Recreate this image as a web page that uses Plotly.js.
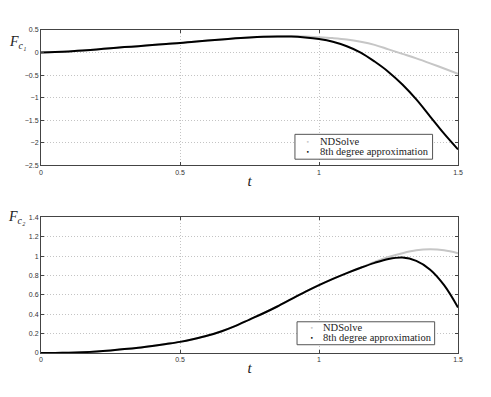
<!DOCTYPE html>
<html>
<head>
<meta charset="utf-8">
<script src="https://cdn.plot.ly/plotly-3.0.1.min.js"></script>
<style>
	html, body { margin: 0; padding: 0; background: #fff; }
	#plot { width: 491px; height: 397px; }
</style>
</head>
<body>
<div id="plot"></div>
<script>
// time samples shared by all curves
const t = [0, 0.05, 0.1, 0.15, 0.2, 0.25, 0.3, 0.35, 0.4, 0.45, 0.5, 0.55, 0.6, 0.65, 0.7, 0.75,
	0.8, 0.85, 0.9, 0.95, 1.0, 1.05, 1.1, 1.15, 1.2, 1.25, 1.3, 1.35, 1.4, 1.45, 1.5];

// F_c1
const fc1_ndsolve = [0, 0.01, 0.025, 0.045, 0.07, 0.095, 0.12, 0.14, 0.165, 0.19, 0.21, 0.24, 0.265, 0.29, 0.315, 0.335,
	0.35, 0.358, 0.36, 0.355, 0.34, 0.32, 0.29, 0.24, 0.17, 0.07, -0.03, -0.13, -0.24, -0.355, -0.47];
const fc1_approx = [0, 0.01, 0.025, 0.045, 0.07, 0.095, 0.12, 0.14, 0.165, 0.19, 0.21, 0.24, 0.265, 0.29, 0.315, 0.335,
	0.35, 0.357, 0.355, 0.335, 0.3, 0.24, 0.14, 0.0, -0.2, -0.43, -0.71, -1.04, -1.42, -1.8, -2.15];

// F_c2
const fc2_ndsolve = [0, 0.0005, 0.003, 0.008, 0.016, 0.027, 0.04, 0.055, 0.073, 0.093, 0.115, 0.145, 0.18, 0.225, 0.28, 0.345,
	0.41, 0.48, 0.555, 0.63, 0.7, 0.765, 0.825, 0.88, 0.94, 0.99, 1.03, 1.06, 1.07, 1.06, 1.03];
const fc2_approx = [0, 0.0005, 0.003, 0.008, 0.016, 0.027, 0.04, 0.055, 0.073, 0.093, 0.115, 0.145, 0.18, 0.225, 0.28, 0.345,
	0.41, 0.48, 0.555, 0.63, 0.7, 0.765, 0.825, 0.88, 0.93, 0.97, 0.985, 0.95, 0.86, 0.7, 0.47];

const legend_names = ["NDSolve", "8th degree approximation"];
const x_ticks = [0, 0.5, 1, 1.5];
const x_ticktext = ["0", "0.5", "1", "1.5"];
const y1_ticks = [-2.5, -2, -1.5, -1, -0.5, 0, 0.5];
const y1_ticktext = ["−2.5", "−2", "−1.5", "−1", "−0.5", "0", "0.5"];
const y2_ticks = [0, 0.2, 0.4, 0.6, 0.8, 1, 1.2, 1.4];
const y2_ticktext = ["0", "0.2", "0.4", "0.6", "0.8", "1", "1.2", "1.4"];

const grey = "#c6c6c6";
const tickfont = { family: "Liberation Sans, Arial, sans-serif", size: 7, color: "#333" };
const serif = "Liberation Serif";

function line(x, y, color, xa, ya) {
	return { x: x, y: y, xaxis: xa, yaxis: ya, mode: "lines", line: { color: color, width: 2, shape: "spline" },
		showlegend: false, hoverinfo: "skip" };
}

const traces = [
	line(t, fc1_ndsolve, grey, "x", "y"),
	line(t, fc1_approx, "#000", "x", "y"),
	line(t, fc2_ndsolve, grey, "x2", "y2"),
	line(t, fc2_approx, "#000", "x2", "y2")
];

function xaxis(anchor) {
	return {
		anchor: anchor, range: [0, 1.5], tickvals: x_ticks, ticktext: x_ticktext,
		showgrid: true, gridcolor: "#c4c4c4", griddash: "1px,2px", gridwidth: 1,
		showline: true, linecolor: "#444", linewidth: 1, mirror: "ticks",
		ticks: "inside", ticklen: 3, tickcolor: "#444", tickfont: tickfont,
		zeroline: false, title: { text: "<i>t</i>", font: { family: serif, size: 15, color: "#222" }, standoff: 0 }
	};
}
function yaxis(anchor, domain, range, vals, text) {
	return {
		anchor: anchor, domain: domain, range: range, tickvals: vals, ticktext: text,
		showgrid: true, gridcolor: "#c4c4c4", griddash: "1px,2px", gridwidth: 1,
		showline: true, linecolor: "#444", linewidth: 1, mirror: "ticks",
		ticks: "inside", ticklen: 3, tickcolor: "#444", tickfont: tickfont, zeroline: false
	};
}

// hand-drawn legend boxes (plotly's own legend rows are too tall here)
function legendParts(x0, x1, y0, y1, dotX, textX, rowY) {
	const shapes = [{ type: "rect", xref: "paper", yref: "paper", x0: x0, x1: x1, y0: y0, y1: y1,
		fillcolor: "#fff", line: { color: "#555", width: 1 }, layer: "above" }];
	const notes = [];
	const colors = [grey, "#000"];
	legend_names.forEach((name, i) => {
		notes.push({ text: "•", xref: "paper", yref: "paper", x: dotX, y: rowY[i], xanchor: "center", yanchor: "middle",
			showarrow: false, font: { family: "DejaVu Sans", size: 6, color: colors[i] } });
		notes.push({ text: name, xref: "paper", yref: "paper", x: textX, y: rowY[i], xanchor: "left", yanchor: "middle",
			showarrow: false, font: { family: serif, size: 10.5, color: "#222" } });
	});
	return { shapes, notes };
}
const lg1 = legendParts(0.609, 0.939, 0.600, 0.677, 0.641, 0.664, [0.656, 0.624]);
const lg2 = legendParts(0.614, 0.944, 0.0256, 0.0967, 0.649, 0.671, [0.078, 0.048]);

const layout = {
	width: 491, height: 397,
	margin: { l: 40.5, r: 32.7, t: 29.5, b: 43.7 },
	paper_bgcolor: "#fff", plot_bgcolor: "#fff",
	font: { family: serif },
	showlegend: false,
	xaxis: xaxis("y"),
	yaxis: yaxis("x", [0.5815, 1], [-2.5, 0.5], y1_ticks, y1_ticktext),
	xaxis2: xaxis("y2"),
	yaxis2: yaxis("x2", [0, 0.42], [0, 1.4], y2_ticks, y2_ticktext),
	shapes: lg1.shapes.concat(lg2.shapes),
	annotations: [
		{ text: "<i>F<sub>c₁</sub></i>", xref: "paper", yref: "paper", x: -0.03, y: 0.96,
			xanchor: "right", yanchor: "middle", showarrow: false, font: { family: serif, size: 14, color: "#222" } },
		{ text: "<i>F<sub>c₂</sub></i>", xref: "paper", yref: "paper", x: -0.03, y: 0.42,
			xanchor: "right", yanchor: "middle", showarrow: false, font: { family: serif, size: 14, color: "#222" } }
	].concat(lg1.notes, lg2.notes)
};

Plotly.newPlot("plot", traces, layout, { displayModeBar: false, staticPlot: true });
</script>
</body>
</html>
